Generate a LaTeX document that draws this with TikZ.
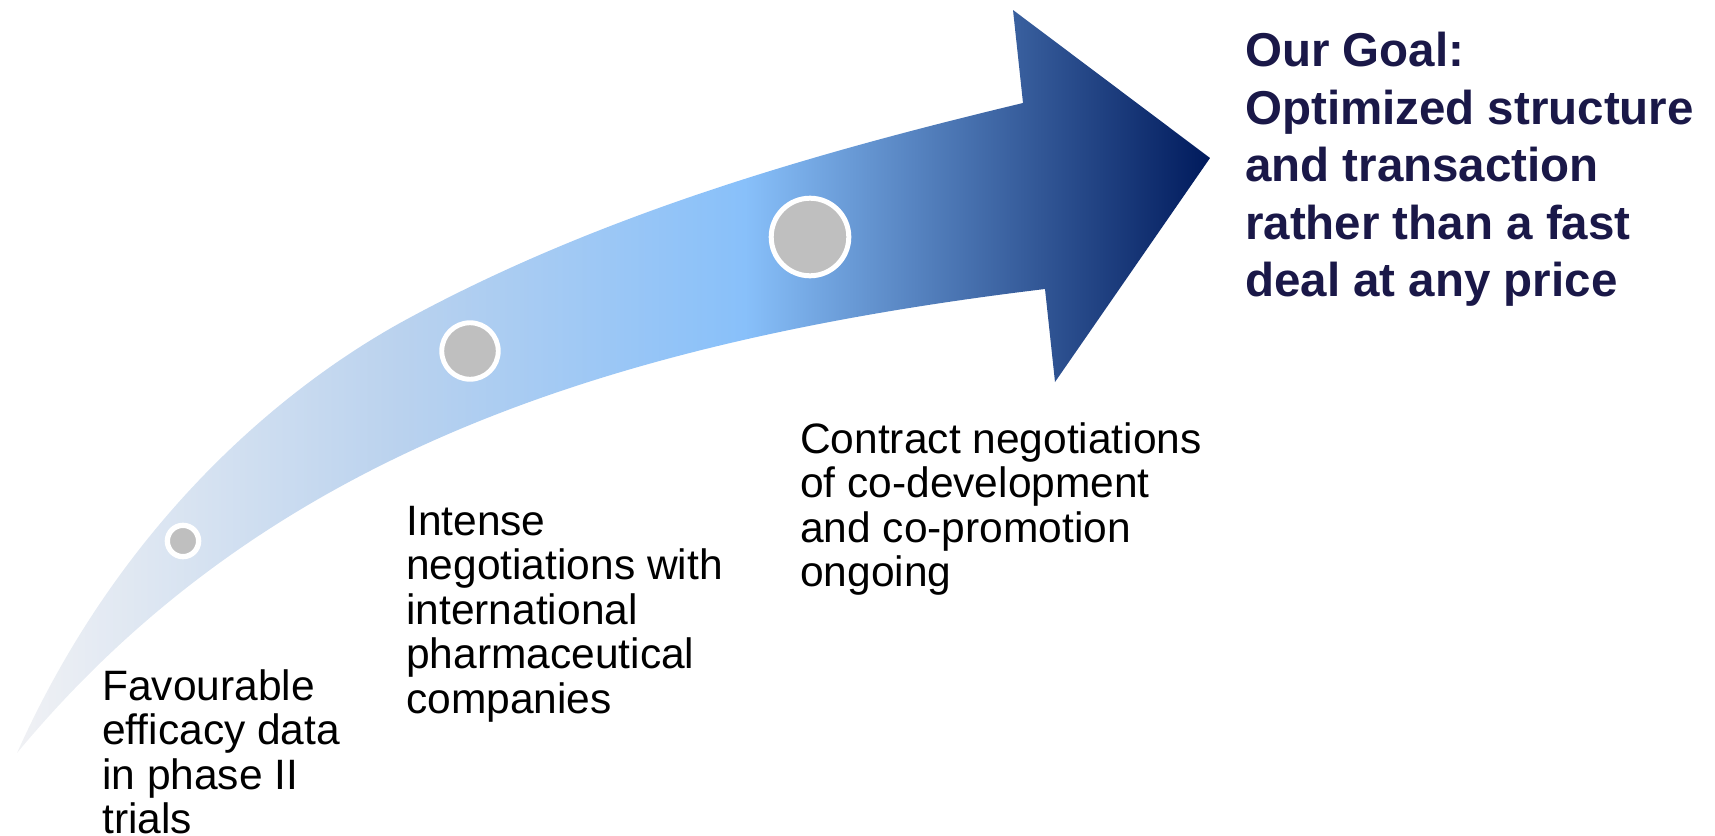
\documentclass[tikz,border=0pt]{standalone}
\usepackage{fontspec}
\setmainfont{Liberation Sans}

\definecolor{tailgrey}{RGB}{240,241,244}
\definecolor{paleblue}{RGB}{186,210,238}
\definecolor{skyblue}{RGB}{136,192,250}
\definecolor{deepnavy}{RGB}{0,26,92}
\definecolor{dotgrey}{RGB}{191,191,191}
\definecolor{goalnavy}{RGB}{26,24,72}

% left-to-right colour run of the big curved arrow
\pgfdeclarehorizontalshading{arrowshade}{100bp}{%
  color(0bp)=(tailgrey); color(25bp)=(tailgrey); color(41bp)=(paleblue);
  color(55.5bp)=(skyblue); color(75bp)=(deepnavy); color(100bp)=(deepnavy)}

\begin{document}
\begin{tikzpicture}[x=1pt,y=-1pt,
  milestone/.style={circle, fill=dotgrey, draw=white, inner sep=0pt},
  steptext/.style={anchor=north west, inner sep=0pt, align=left,
    font=\fontsize{42.5}{44.5}\selectfont, text=black},
  goaltext/.style={anchor=north west, inner sep=0pt, align=left,
    font=\fontsize{47.5}{57.5}\selectfont\bfseries, text=goalnavy}]
\useasboundingbox (0,0) rectangle (1715,835);

% curved arrow body and head
\shade[shading=arrowshade]
  (17,753) .. controls (115,534) and (269,396) .. (400,323)
           .. controls (600,213) and (823,151) .. (1023,103)
  -- (1013,10) -- (1210,158) -- (1055,382) -- (1045,289)
  .. controls (598,343) and (260,460) .. (17,753)
  -- cycle;

% milestones along the arrow
\node[milestone, minimum size=31.3pt, line width=5.3pt] (m1) at (183,541) {};
\node[milestone, minimum size=56.5pt, line width=4.9pt] (m2) at (470,351) {};
\node[milestone, minimum size=77.6pt, line width=5pt]   (m3) at (810,237) {};

% captions
\node[steptext] (t1) at (102,669) {Favourable\\efficacy data\\in phase II\\trials};
\node[steptext] (t2) at (406,506) {Intense\\negotiations with\\international\\pharmaceutical\\companies};
\node[steptext] (t3) at (800,422) {Contract negotiations\\of co-development\\and co-promotion\\ongoing};
\node[goaltext] (goal) at (1245,32) {Our Goal:\\Optimized structure\\and transaction\\rather than a fast\\deal at any price};
\end{tikzpicture}
\end{document}
